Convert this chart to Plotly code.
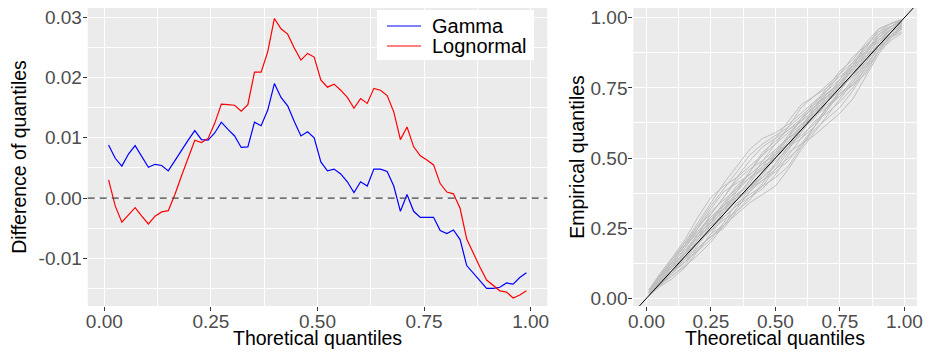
import numpy as np
import plotly.graph_objects as go

# ---------------- Left panel data ----------------
probs = np.linspace(0.01, 0.99, 64)

gamma_diff = [
    0.0088, 0.0066, 0.0053, 0.0073, 0.0087, 0.0069, 0.0051, 0.0056, 0.0054, 0.0045,
    0.0061, 0.0079, 0.0096, 0.0112, 0.0097, 0.0096, 0.0108, 0.0126, 0.0114, 0.0103,
    0.0084, 0.0085, 0.0126, 0.0120, 0.0146, 0.0190, 0.0167, 0.0153, 0.0127, 0.0103,
    0.0110, 0.0100, 0.0060, 0.0045, 0.0048, 0.0040, 0.0027, 0.0009, 0.0027, 0.0020,
    0.0048, 0.0048, 0.0044, 0.0020, -0.0022, 0.0006, -0.0022, -0.0032, -0.0032, -0.0032,
    -0.0054, -0.0059, -0.0053, -0.0069, -0.0112, -0.0125, -0.0138, -0.0150, -0.0150, -0.0148,
    -0.0141, -0.0143, -0.0132, -0.0124,
]

lognormal_diff = [
    0.0030, -0.0013, -0.0040, -0.0028, -0.0016, -0.0030, -0.0043, -0.0030, -0.0023, -0.0021,
    0.0006, 0.0037, 0.0066, 0.0096, 0.0092, 0.0099, 0.0124, 0.0156, 0.0155, 0.0154,
    0.0144, 0.0155, 0.0209, 0.0209, 0.0243, 0.0298, 0.0281, 0.0272, 0.0249, 0.0229,
    0.0240, 0.0234, 0.0196, 0.0184, 0.0189, 0.0179, 0.0167, 0.0149, 0.0165, 0.0157,
    0.0182, 0.0179, 0.0170, 0.0143, 0.0097, 0.0118, 0.0085, 0.0070, 0.0063, 0.0055,
    0.0024, 0.0010, 0.0007, -0.0017, -0.0068, -0.0092, -0.0115, -0.0136, -0.0145, -0.0154,
    -0.0156, -0.0166, -0.0161, -0.0154,
]

series_names = ["Gamma", "Lognormal"]
series_colors = ["#0000FF", "#FF0000"]

left_xticks = [0.0, 0.25, 0.5, 0.75, 1.0]
left_xlabels = ["0.00", "0.25", "0.50", "0.75", "1.00"]
left_yticks = [-0.01, 0.0, 0.01, 0.02, 0.03]
left_ylabels = ["-0.01", "0.00", "0.01", "0.02", "0.03"]

# ---------------- Right panel data ----------------
qq_theoretical = [0.01, 0.05, 0.10, 0.15, 0.20, 0.25, 0.30, 0.35, 0.40, 0.45, 0.50,
                  0.55, 0.60, 0.65, 0.70, 0.75, 0.80, 0.85, 0.90, 0.95, 0.99]

# deviations of simulated empirical quantiles from theoretical (in units of 0.01)
sim01 = [1, 3, 4, 5, 7, 9, 11, 12, 13, 12, 9, 7, 6, 5, 4, 3, 4, 5, 4, 2, 0]
sim02 = [2, 3.5, 4.5, 6, 9, 11, 10, 8, 7, 6, 5, 6, 8, 7, 5, 4, 3, 4, 6, 3, 0.5]
sim03 = [0, -1, -3, -4, -3, -2, -4, -5, -6, -8, -10, -9, -7, -6, -5, -4, -3, -2, -1, -2, -3]
sim04 = [1, 0, -1, -2, -3, -2, -1, -2, -4, -5, -4, -3, -5, -7, -8, -9, -9, -6, -3, -2, -4]
sim05 = [1, 2, 3, 4, 5, 6, 5, 4, 5, 6, 7, 8, 9, 7, 6, 5, 6, 5, 5, 3, 0]
sim06 = [0.5, 1, 0, -1, -2, -3, -4, -3, -2, -1, 0, 1, 2, 1, 0, -1, 0, 1, 2, 1, -1]
sim07 = [1, 2, 3, 2, 3, 4, 3, 2, 1, 2, 3, 2, 1, 2, 3, 2, 1, 2, 3, 2, 0]
sim08 = [1.5, 2, 1, 0, 1, 2, 4, 5, 4, 3, 2, 0, -2, -3, -2, -1, 0, -1, 0, 0, -2]
sim09 = [0.5, -0.5, -2, -3.5, -4.5, -5, -4, -3, -2, -3, -5, -6, -5, -4, -3, -1, 0, 1, 0, -1, -2]
sim10 = [2, 3, 2, 3, 5, 7, 8, 6, 4, 3, 1, 0, 1, 3, 4, 5, 4, 3, 2, 1, 0]
sim11 = [1, 1, 2, 1, 0, -1, 0, 1, 2, 4, 5, 4, 3, 4, 5, 6, 5, 6, 6, 3, 0]
sim12 = [0.5, 0, -1, -2, -1, 0, 1, 0, -1, -3, -4, -5, -6, -5, -6, -7, -6, -4, -2, -3, -4.5]
sim13 = [1.5, 2.5, 3, 4, 3, 2, 1, 3, 5, 7, 6, 5, 3, 2, 1, 0, 2, 3, 4, 2, -0.5]
sim14 = [0.5, 0.5, 1, 2, 2, 1, -1, -2, -1, 0, 2, 3, 2, 0, -2, -3, -2, -1, 1, 0, -1.5]
sim15 = [1, 1.5, 0, -1, 0, 1, 2, 2, 0, -2, -3, -2, 0, 2, 1, 0, -1, 0, 1, 1, -1]
sim16 = [2, 2.5, 4, 5, 4, 3, 2, 1, 2, 1, -1, -2, -1, 0, 1, 2, 3, 4, 3, 1, -0.5]
sim17 = [0, -0.5, -1, 0, 1, 2, 3, 1, -1, -2, -2, -1, -3, -4, -3, -2, -3, -2, -1, -1.5, -3]
sim18 = [1, 2, 2, 3, 4, 4, 3, 4, 3, 1, 1, 2, 4, 5, 3, 1, 2, 1, 2, 1, -1]
sim19 = [0.5, 1, -1, -2, -3, -4, -3, -1, -3, -5, -7, -8, -6, -4, -2, -2, -4, -3, -2, -1, -2.5]
sim20 = [1, 2, 3, 4, 6, 5, 6, 8, 9, 9, 7, 5, 4, 3, 3, 2, 1, 2, 4, 2, 0]
sim21 = [0.5, 1, 1.5, 1, 2, 3, 2, 0, -1, 0, 1, 3, 4, 3, 2, 0, -1, -2, -1, 0, -1.5]
sim22 = [1.5, 1, 0, 1, 3, 5, 6, 7, 6, 4, 3, 2, 0, -1, 0, 1, 2, 3, 2, 1, -0.5]
sim23 = [0, 0, -2, -3, -2, -3, -5, -4, -4, -6, -6, -4, -3, -2, -4, -5, -5, -3, 0, 0, -2]
sim24 = [1, 2, 2, 1, 2, 3, 4, 3, 3, 2, 0, -1, -1, 1, 2, 3, 3, 2, 3, 2, 0]
sim25 = [2, 3, 3, 5, 6, 8, 9, 10, 11, 10, 8, 6, 5, 4, 2, 1, 3, 5, 5, 2, 0]
sim26 = [0.5, 0.5, -1, -1, 0, -1, -2, -4, -5, -4, -2, -1, 1, 0, -1, -3, -4, -5, -2, -1, -3]

simulations = [sim01, sim02, sim03, sim04, sim05, sim06, sim07, sim08, sim09, sim10,
               sim11, sim12, sim13, sim14, sim15, sim16, sim17, sim18, sim19, sim20,
               sim21, sim22, sim23, sim24, sim25, sim26]

right_ticks = [0.0, 0.25, 0.5, 0.75, 1.0]
right_labels = ["0.00", "0.25", "0.50", "0.75", "1.00"]

# ---------------- Figure geometry helpers ----------------
# The page body has an 8px margin; a 915x342 figure fills the 931x358 window exactly.
OFF = 8
W, H = 931 - 2 * OFF, 358 - 2 * OFF


def fx(p):
    return (p - OFF) / W


def fy(p):
    return min(1.0, 1 - (p - OFF) / H)


FONT = "Liberation Sans, Arial, Helvetica, sans-serif"
TICK_FONT = dict(family=FONT, size=19, color="#4D4D4D")
TITLE_FONT = dict(family=FONT, size=19.5, color="#000000")

fig = go.Figure()

for yvals, nm, col in zip([gamma_diff, lognormal_diff], series_names, series_colors):
    fig.add_trace(go.Scatter(x=probs, y=yvals, mode="lines", name=nm, showlegend=False,
                             line=dict(color=col, width=1.2), xaxis="x", yaxis="y"))

for dev in simulations:
    y_emp = [t + d / 100.0 for t, d in zip(qq_theoretical, dev)]
    fig.add_trace(go.Scatter(x=qq_theoretical, y=y_emp, mode="lines", showlegend=False,
                             line=dict(color="#BEBEBE", width=1.0), hoverinfo="skip",
                             xaxis="x2", yaxis="y2"))

common_axis = dict(
    showgrid=True, gridcolor="#FFFFFF", gridwidth=1.1, zeroline=False,
    ticks="outside", ticklen=4, tickwidth=1, tickcolor="#333333",
    tickfont=TICK_FONT, showline=False, automargin=False,
    ticklabeloverflow="allow",
)
minor_grid = dict(showgrid=True, gridcolor="#FFFFFF", gridwidth=0.55, ticks="")

# panel: top clipped at page offset, bottom slightly raised to leave room for titles
PANEL_BOTTOM = 306.0
ydom = [fy(PANEL_BOTTOM), 1.0]
left_dom = [fx(87.7), fx(547.3)]
right_dom = [fx(633.3), fx(917.0)]
# keep the reference's pixel scale: 6025 px per unit (left), 280.6 px per unit (right)
left_ybottom = -0.01 - (PANEL_BOTTOM - 258.3) / 6025
right_ybottom = -(PANEL_BOTTOM - 298.3) / 280.6

fig.update_layout(
    width=W, height=H,
    margin=dict(l=0, r=0, t=0, b=0),
    paper_bgcolor="#FFFFFF", plot_bgcolor="#EBEBEB",
    font=dict(family=FONT),
    showlegend=False,
    xaxis=dict(common_axis, domain=left_dom, range=[-0.039, 1.039],
               tickvals=left_xticks, ticktext=left_xlabels, anchor="y",
               ticklabelstandoff=-6,
               minor=dict(minor_grid, tickvals=[0.125, 0.375, 0.625, 0.875])),
    yaxis=dict(common_axis, domain=ydom, range=[left_ybottom, 0.03154],
               tickvals=left_yticks, ticktext=left_ylabels, anchor="x",
               ticklabelstandoff=-3,
               minor=dict(minor_grid, tickvals=[-0.015, -0.005, 0.005, 0.015, 0.025]),
               title=dict(text="Difference of quantiles", font=TITLE_FONT, standoff=10)),
    xaxis2=dict(common_axis, domain=right_dom, range=[-0.051, 1.049],
                tickvals=right_ticks, ticktext=right_labels, anchor="y2",
                ticklabelstandoff=-6,
                minor=dict(minor_grid, tickvals=[0.125, 0.375, 0.625, 0.875])),
    yaxis2=dict(common_axis, domain=ydom, range=[right_ybottom, 1.0346],
                tickvals=right_ticks, ticktext=right_labels, anchor="x2",
                ticklabelstandoff=-3,
                minor=dict(minor_grid, tickvals=[0.125, 0.375, 0.625, 0.875]),
                title=dict(text="Empirical quantiles", font=TITLE_FONT, standoff=0)),
)

# x-axis titles, centred under each panel
for dom, txt in [(left_dom, "Thoretical quantiles"), (right_dom, "Theoretical quantiles")]:
    fig.add_annotation(text=txt, xref="paper", yref="paper", x=(dom[0] + dom[1]) / 2,
                       y=fy(350), xanchor="center", yanchor="bottom", showarrow=False,
                       font=TITLE_FONT, borderpad=0)

# dashed reference line at zero (left) and identity line (right)
fig.add_shape(type="line", xref="x domain", yref="y", x0=0, x1=1, y0=0, y1=0,
              line=dict(color="#444444", width=1.2, dash="7px,5px"), layer="above")
fig.add_shape(type="line", xref="x2", yref="y2", x0=-0.06, y0=-0.06, x1=1.06, y1=1.06,
              line=dict(color="#000000", width=1.0), layer="above")

# legend box (inside left panel, top right)
fig.add_shape(type="rect", xref="paper", yref="paper",
              x0=fx(377), x1=fx(534), y0=fy(60), y1=fy(10),
              fillcolor="#FFFFFF", line=dict(width=0), layer="above")
for i, (nm, col) in enumerate(zip(series_names, series_colors)):
    yc = 26 + 20 * i
    fig.add_shape(type="line", xref="paper", yref="paper",
                  x0=fx(387), x1=fx(421), y0=fy(yc), y1=fy(yc),
                  line=dict(color=col, width=1.2), layer="above")
    fig.add_annotation(text=nm, xref="paper", yref="paper", x=fx(430), y=fy(yc),
                       xanchor="left", yanchor="middle", showarrow=False,
                       font=dict(family=FONT, size=20, color="#000000"))

fig.write_html("out.html")
